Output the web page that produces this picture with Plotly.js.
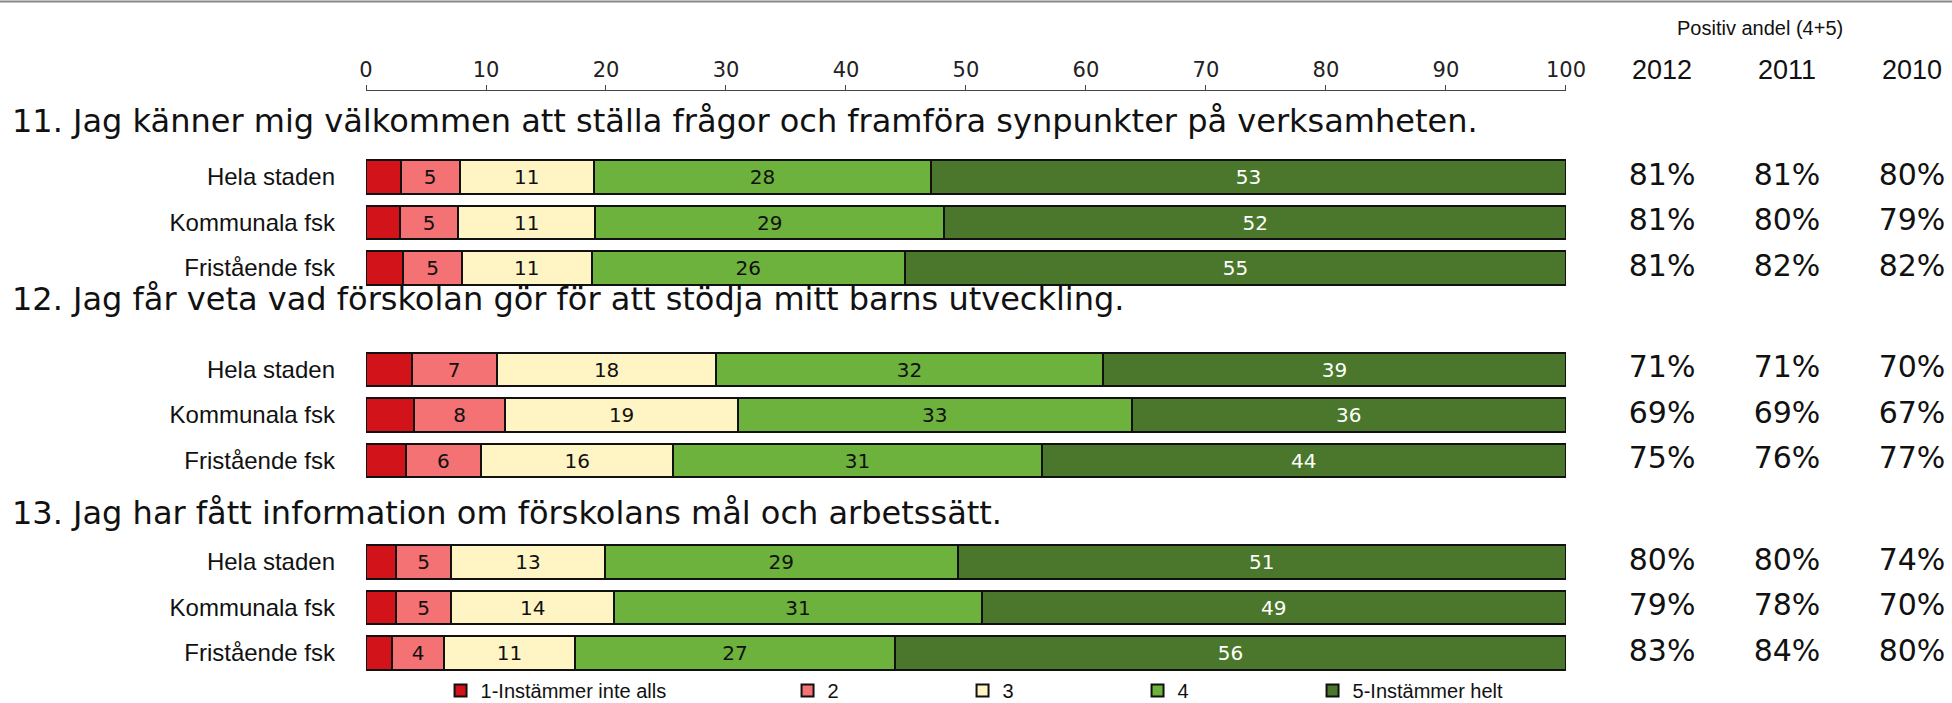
<!DOCTYPE html>
<html>
<head>
<meta charset="utf-8">
<script src="https://cdn.plot.ly/plotly-3.0.1.min.js"></script>
<style>
  html, body { margin:0; padding:0; background:#fff; }
  #chart { width:1952px; height:703px; }
</style>
</head>
<body>
<div id="chart"></div>
<script>
// questions and respondent groups
const questions = [
  '11. Jag känner mig välkommen att ställa frågor och framföra synpunkter på verksamheten.',
  '12. Jag får veta vad förskolan gör för att stödja mitt barns utveckling.',
  '13. Jag har fått information om förskolans mål och arbetssätt.'
];
const groups = ['Hela staden', 'Kommunala fsk', 'Fristående fsk'];
const categories = ['1-Instämmer inte alls', '2', '3', '4', '5-Instämmer helt'];

// share per answer (rows: Q11 H/K/F, Q12 H/K/F, Q13 H/K/F)
const s1 = [2.9, 2.8, 3.1, 3.8, 4.0, 3.3, 2.5, 2.5, 2.2];
const s2 = [4.9, 4.9, 4.9, 7.1, 7.6, 6.3, 4.6, 4.6, 4.3];
const s3 = [11.2, 11.4, 10.8, 18.3, 19.4, 16.0, 12.8, 13.6, 10.9];
const s4 = [28.1, 29.1, 26.1, 32.2, 32.8, 30.7, 29.4, 30.6, 26.7];
const s5 = [52.9, 51.8, 55.1, 38.6, 36.2, 43.7, 50.7, 48.7, 55.9];

// positive share (4+5) by year
const years = ['2012', '2011', '2010'];
const pos2012 = [81, 81, 81, 71, 69, 75, 80, 79, 83];
const pos2011 = [81, 80, 82, 71, 69, 76, 80, 78, 84];
const pos2010 = [80, 79, 82, 70, 67, 77, 74, 70, 80];

const colors = ['#d2131a', '#f47174', '#fff5c4', '#6cb23c', '#4a772b'];
const textColors = ['#000', '#111', '#111', '#111', '#fff'];
const legendWidths = [302, 130, 130, 130, undefined];

// row layout
const GROUP_STEP = 4.23;
const rowY = [];
const rowText = [];
questions.forEach((q, g) => groups.forEach((name, r) => {
  rowY.push(g * GROUP_STEP + r);
  rowText.push(name);
}));
const titleGap = [-1.23, -1.55, -1.07];

const series = [s1, s2, s3, s4, s5];
const traces = series.map((vals, i) => ({
  type: 'bar',
  orientation: 'h',
  name: categories[i],
  x: vals,
  y: rowY,
  width: 0.73,
  marker: { color: colors[i], line: { color: '#111', width: 2 } },
  text: i === 0 ? null : vals.map(v => String(Math.round(v))),
  textposition: i === 0 ? 'none' : 'inside',
  insidetextanchor: 'middle',
  textangle: 0,
  constraintext: 'none',
  insidetextfont: { family: 'DejaVu Sans', size: 20, color: textColors[i] },
  cliponaxis: false,
  legendwidth: legendWidths[i],
  hoverinfo: 'skip'
}));

[pos2012, pos2011, pos2010].forEach((vals, i) => {
  traces.push({
    type: 'scatter',
    mode: 'text',
    xaxis: 'x2',
    yaxis: 'y',
    x: vals.map(() => years[i]),
    y: rowY,
    text: vals.map(v => v + '%'),
    textposition: 'middle center',
    textfont: { family: 'DejaVu Sans', size: 30, color: '#111' },
    showlegend: false,
    cliponaxis: false,
    hoverinfo: 'skip'
  });
});

const annotations = questions.map((q, g) => ({
  text: q,
  xref: 'paper', yref: 'y',
  x: -0.2245, y: g * GROUP_STEP + titleGap[g],
  xanchor: 'left', yanchor: 'middle',
  showarrow: false,
  font: { family: 'DejaVu Sans', size: 32, color: '#111' }
}));
annotations.push({
  text: 'Positiv andel (4+5)',
  xref: 'paper', yref: 'paper',
  x: 0.879, y: 1.108,
  xanchor: 'center', yanchor: 'middle',
  showarrow: false,
  font: { family: 'Liberation Sans', size: 20, color: '#111' }
});

const layout = {
  width: 1952, height: 703,
  margin: { l: 366, r: 0, t: 91, b: 27, autoexpand: false },
  paper_bgcolor: '#fff',
  plot_bgcolor: 'rgba(0,0,0,0)',
  barmode: 'stack',
  font: { family: 'DejaVu Sans', color: '#111' },
  xaxis: {
    domain: [0, 0.7566],
    range: [0, 100],
    side: 'top',
    dtick: 10,
    ticks: 'outside', ticklen: 5, tickcolor: '#444',
    showline: true, linecolor: '#444', linewidth: 1,
    showgrid: false, zeroline: false,
    tickfont: { family: 'DejaVu Sans', size: 21, color: '#222' },
    fixedrange: true
  },
  xaxis2: {
    domain: [0.7781, 1],
    anchor: 'y',
    type: 'category',
    categoryorder: 'array', categoryarray: years,
    range: [-0.496, 2.32],
    side: 'top',
    ticks: '', ticklabelstandoff: 6,
    showline: false, showgrid: false, zeroline: false,
    tickfont: { family: 'Liberation Sans', size: 27, color: '#111' },
    fixedrange: true
  },
  yaxis: {
    range: [10.965, -1.892],
    tickvals: rowY,
    ticktext: rowText,
    ticks: '', ticklabelstandoff: 30,
    showline: false, showgrid: false, zeroline: false,
    tickfont: { family: 'Liberation Sans', size: 24, color: '#111' },
    fixedrange: true
  },
  showlegend: true,
  legend: {
    orientation: 'h',
    x: 0.047, xanchor: 'left',
    y: 0.0085, yanchor: 'top',
    traceorder: 'normal',
    font: { family: 'Liberation Sans', size: 20, color: '#111' },
    bgcolor: 'rgba(0,0,0,0)'
  },
  shapes: [{
    type: 'line', xref: 'paper', yref: 'paper',
    x0: -0.2308, x1: 1, y0: 1.153, y1: 1.153,
    line: { color: '#888', width: 2 }
  }],
  annotations: annotations
};

Plotly.newPlot('chart', traces, layout, { displayModeBar: false, staticPlot: true });
</script>
</body>
</html>
